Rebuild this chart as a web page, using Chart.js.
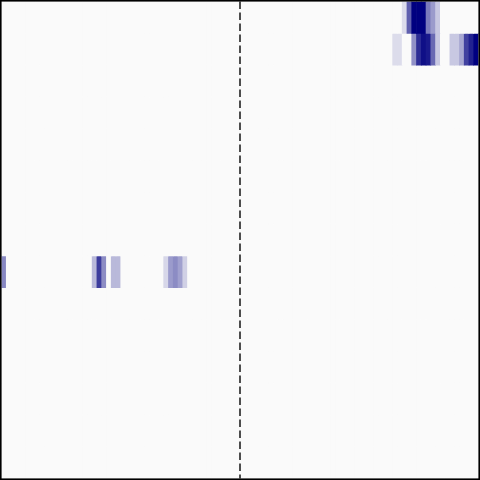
<!DOCTYPE html>
<html>
<head>
<meta charset="utf-8">
<script src="https://cdn.jsdelivr.net/npm/chart.js@4"></script>
<style>
html,body{margin:0;padding:0;background:#ffffff;}
#wrap{width:480px;height:480px;}
</style>
</head>
<body>
<div id="wrap"><canvas id="c" width="480" height="480"></canvas></div>
<script>
// Heatmap: 15 rows x 100 columns, values 0..1 (only non-zero cells listed)
const nRows = 15;
const nCols = 100;
const row0Cols = [84, 85, 86, 87, 88, 89, 90, 91];
const row0Vals = [0.12, 0.62, 1.0, 1.0, 1.0, 0.51, 0.38, 0.2];
const row1Cols = [82, 83, 86, 87, 88, 89, 90, 91, 94, 95, 96, 97, 98, 99];
const row1Vals = [0.12, 0.12, 0.42, 0.82, 0.94, 0.9, 0.58, 0.2, 0.2, 0.2, 0.33, 0.74, 0.87, 1.0];
const row8Cols = [0, 19, 20, 21, 23, 24, 34, 35, 36, 37, 38];
const row8Vals = [0.46, 0.26, 0.76, 0.44, 0.26, 0.26, 0.14, 0.38, 0.44, 0.36, 0.17];
const dividerAfterCol = 49;

const sparse = {0: [row0Cols, row0Vals], 1: [row1Cols, row1Vals], 8: [row8Cols, row8Vals]};
const labels = Array.from({length: nCols}, (_, i) => String(i));

function cmap(t) {
  const lo = [250, 250, 250], hi = [0, 0, 128];
  const c = lo.map((v, i) => Math.round(v + (hi[i] - v) * t));
  return `rgb(${c[0]},${c[1]},${c[2]})`;
}

const datasets = [];
for (let r = 0; r < nRows; r++) {
  const vals = new Array(nCols).fill(0);
  if (sparse[r]) {
    sparse[r][0].forEach((c, k) => { vals[c] = sparse[r][1][k]; });
  }
  datasets.push({
    data: vals.map(() => [r, r + 1]),
    backgroundColor: vals.map(cmap),
    borderWidth: 0,
    barPercentage: 1,
    categoryPercentage: 1,
    grouped: false
  });
}

const decor = {
  id: 'decor',
  afterDatasetsDraw(chart) {
    const ctx = chart.ctx;
    const xs = chart.scales.x;
    const a = chart.chartArea;
    const xp = (xs.getPixelForValue(dividerAfterCol) + xs.getPixelForValue(dividerAfterCol + 1)) / 2;
    ctx.save();
    ctx.strokeStyle = '#222222';
    ctx.lineWidth = 1.6;
    ctx.setLineDash([7.5, 3.5]);
    ctx.beginPath();
    ctx.moveTo(xp, a.top);
    ctx.lineTo(xp, a.bottom);
    ctx.stroke();
    ctx.setLineDash([]);
    ctx.strokeStyle = '#000000';
    ctx.lineWidth = 1.6;
    ctx.strokeRect(0.8, 0.8, 478.4, 478.4);
    ctx.restore();
  }
};

new Chart(document.getElementById('c'), {
  type: 'bar',
  data: {labels, datasets},
  options: {
    responsive: false,
    animation: false,
    layout: {padding: 1.5},
    plugins: {legend: {display: false}, tooltip: {enabled: false}},
    scales: {
      x: {display: false, offset: true, grid: {display: false}},
      y: {display: false, min: 0, max: nRows, reverse: true, grid: {display: false}}
    }
  },
  plugins: [decor]
});
</script>
</body>
</html>
